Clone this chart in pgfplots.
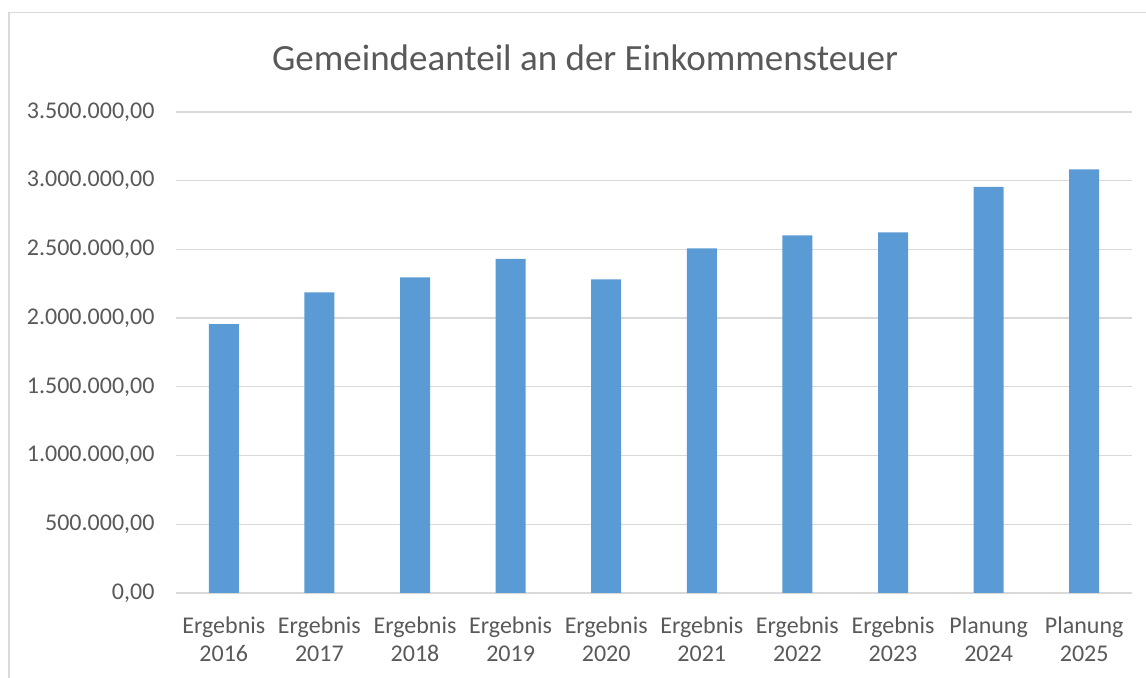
\documentclass[border=0pt]{standalone}
\usepackage{pgfplots}
\pgfplotsset{compat=1.18}
\usepackage{fontspec}
\setmainfont{Carlito}
\definecolor{barblue}{HTML}{5B9BD5}
\definecolor{gridgray}{HTML}{D9D9D9}
\definecolor{txtgray}{HTML}{595959}
\begin{document}
\begin{tikzpicture}[x=1bp,y=1bp]
\path[use as bounding box] (0,0) rectangle (1146,678);
\draw[gridgray, line width=1.5bp] (9,-10) -- (9,665.5) -- (1160,665.5);
\node[txtgray, font=\fontsize{37bp}{44bp}\selectfont, anchor=center] at (585,620) {Gemeindeanteil an der Einkommensteuer};
\begin{axis}[
  at={(176bp,85bp)}, anchor=south west,
  scale only axis, width=956bp, height=481bp,
  xmin=-0.5, xmax=9.5, ymin=0, ymax=3500000,
  axis line style={draw=none},
  major tick style={draw=none},
  ymajorgrids, grid style={gridgray, line width=1.3bp},
  ytick={0,500000,1000000,1500000,2000000,2500000,3000000,3500000},
  yticklabels={{0,00},{500.000,00},{1.000.000,00},{1.500.000,00},{2.000.000,00},{2.500.000,00},{3.000.000,00},{3.500.000,00}},
  xtick={0,1,2,3,4,5,6,7,8,9},
  xticklabels={{Ergebnis\\2016},{Ergebnis\\2017},{Ergebnis\\2018},{Ergebnis\\2019},{Ergebnis\\2020},{Ergebnis\\2021},{Ergebnis\\2022},{Ergebnis\\2023},{Planung\\2024},{Planung\\2025}},
  xticklabel style={align=center, font=\fontsize{24bp}{28bp}\selectfont, text=txtgray, yshift=-20bp},
  yticklabel style={font=\fontsize{24bp}{28bp}\selectfont, text=txtgray, xshift=-18bp},
  scaled y ticks=false,
  clip=false,
]
\addplot[ybar, bar width=30bp, fill=barblue, draw=none] coordinates {
(0,1956000) (1,2187000) (2,2296000) (3,2432000) (4,2282000)
(5,2507000) (6,2602000) (7,2624000) (8,2956000) (9,3083000)
};
\end{axis}
\end{tikzpicture}
\end{document}
